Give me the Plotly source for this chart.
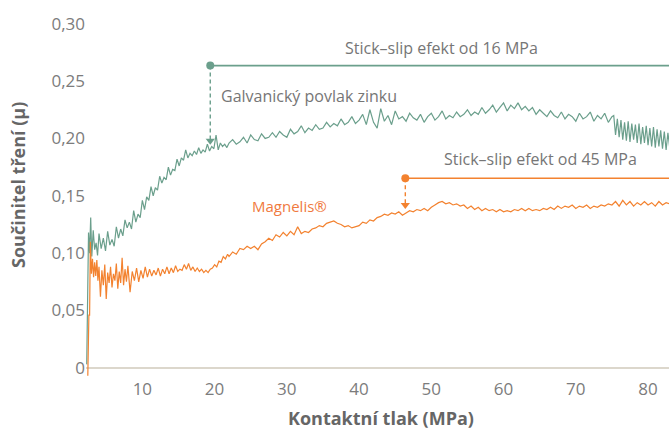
import plotly.graph_objects as go

# ---------------- data ----------------
pressure_zinc = [
    2.3, 2.4, 2.55, 2.7, 2.85, 3.0, 3.2, 3.4, 3.6, 3.8,
    4.0, 4.3, 4.6, 4.9, 5.2, 5.5, 5.8, 6.1, 6.4, 6.7,
    7.0, 7.3, 7.6, 7.9, 8.2, 8.5, 8.8, 9.1, 9.4, 9.7,
    10.0, 10.3, 10.6, 10.9, 11.2, 11.5, 11.8, 12.1, 12.4, 12.7,
    13.0, 13.3, 13.6, 13.9, 14.2, 14.5, 14.8, 15.1, 15.4, 15.7,
    16.0, 16.3, 16.6, 16.9, 17.2, 17.5, 17.8, 18.1, 18.4, 18.7,
    19.0, 19.3, 19.6, 19.9, 20.2, 20.5, 20.8, 21.1, 21.4, 21.7,
    22.0, 22.5, 23.0, 23.5, 24.0, 24.5, 25.0, 25.5, 26.0, 26.5,
    27.0, 27.5, 28.0, 28.5, 29.0, 29.5, 30.0, 30.5, 31.0, 31.5,
    32.0, 32.5, 33.0, 33.5, 34.0, 34.5, 35.0, 35.5, 36.0, 36.5,
    37.0, 37.5, 38.0, 38.5, 39.0, 39.5, 40.0, 40.5, 41.0, 41.5,
    42.0, 42.5, 43.0, 43.5, 44.0, 44.5, 45.0, 45.5, 46.0, 46.5,
    47.0, 47.5, 48.0, 48.5, 49.0, 49.5, 50.0, 50.5, 51.0, 51.5,
    52.0, 52.5, 53.0, 53.5, 54.0, 54.5, 55.0, 55.5, 56.0, 56.5,
    57.0, 57.5, 58.0, 58.5, 59.0, 59.5, 60.0, 60.5, 61.0, 61.5,
    62.0, 62.5, 63.0, 63.5, 64.0, 64.5, 65.0, 65.5, 66.0, 66.5,
    67.0, 67.5, 68.0, 68.5, 69.0, 69.5, 70.0, 70.5, 71.0, 71.5,
    72.0, 72.5, 73.0, 73.5, 74.0, 74.5, 75.0, 75.25, 75.5, 75.75,
    76.0, 76.25, 76.5, 76.75, 77.0, 77.25, 77.5, 77.75, 78.0, 78.25,
    78.5, 78.75, 79.0, 79.25, 79.5, 79.75, 80.0, 80.25, 80.5, 80.75,
    81.0, 81.25, 81.5, 81.75, 82.0, 82.25, 82.5, 82.75, 83.0,
]
mu_zinc = [
    0.003, 0.050, 0.118, 0.100, 0.131, 0.097, 0.120, 0.103, 0.109, 0.098,
    0.117, 0.104, 0.113, 0.102, 0.119, 0.107, 0.112, 0.106, 0.123, 0.113,
    0.121, 0.115, 0.129, 0.122, 0.127, 0.121, 0.137, 0.127, 0.134, 0.131,
    0.146, 0.138, 0.149, 0.146, 0.158, 0.150, 0.157, 0.155, 0.167, 0.161,
    0.166, 0.164, 0.175, 0.168, 0.173, 0.172, 0.182, 0.176, 0.183, 0.181,
    0.190, 0.183, 0.187, 0.185, 0.189, 0.186, 0.192, 0.187, 0.190, 0.188,
    0.195, 0.189, 0.193, 0.191, 0.203, 0.190, 0.196, 0.193, 0.195, 0.192,
    0.196, 0.199, 0.195, 0.197, 0.201, 0.196, 0.203, 0.199, 0.198, 0.204,
    0.200, 0.201, 0.205, 0.201, 0.206, 0.203, 0.201, 0.208, 0.204, 0.206,
    0.211, 0.205, 0.209, 0.207, 0.212, 0.208, 0.209, 0.214, 0.210, 0.213,
    0.211, 0.217, 0.212, 0.214, 0.219, 0.213, 0.216, 0.221, 0.212, 0.225,
    0.214, 0.209, 0.226, 0.215, 0.220, 0.212, 0.224, 0.217, 0.219, 0.215,
    0.222, 0.218, 0.216, 0.221, 0.214, 0.219, 0.222, 0.216, 0.219, 0.224,
    0.217, 0.220, 0.218, 0.223, 0.219, 0.221, 0.225, 0.220, 0.223, 0.221,
    0.227, 0.222, 0.225, 0.229, 0.223, 0.227, 0.231, 0.224, 0.229, 0.226,
    0.231, 0.225, 0.228, 0.224, 0.227, 0.221, 0.225, 0.222, 0.219, 0.224,
    0.220, 0.218, 0.223, 0.217, 0.221, 0.219, 0.215, 0.222, 0.217, 0.219,
    0.223, 0.215, 0.220, 0.217, 0.222, 0.214, 0.219, 0.220, 0.203, 0.217,
    0.201, 0.216, 0.199, 0.214, 0.198, 0.215, 0.197, 0.213, 0.199, 0.212,
    0.196, 0.213, 0.195, 0.210, 0.196, 0.211, 0.194, 0.209, 0.193, 0.210,
    0.192, 0.208, 0.193, 0.207, 0.191, 0.206, 0.190, 0.205, 0.192,
]

pressure_magnelis = [
    2.45, 2.5, 2.6, 2.7, 2.8, 2.95, 3.1, 3.25, 3.4, 3.55,
    3.7, 3.85, 4.0, 4.2, 4.4, 4.6, 4.8, 5.0, 5.2, 5.4,
    5.6, 5.8, 6.0, 6.2, 6.4, 6.6, 6.8, 7.0, 7.2, 7.4,
    7.6, 7.8, 8.0, 8.3, 8.6, 8.9, 9.2, 9.5, 9.8, 10.1,
    10.4, 10.7, 11.0, 11.3, 11.6, 11.9, 12.2, 12.5, 12.8, 13.1,
    13.4, 13.7, 14.0, 14.3, 14.6, 14.9, 15.2, 15.5, 15.8, 16.1,
    16.4, 16.7, 17.0, 17.3, 17.6, 17.9, 18.2, 18.5, 18.8, 19.1,
    19.4, 19.7, 20.0, 20.3, 20.6, 20.9, 21.2, 21.5, 21.8,
    22.0, 22.5, 23.0, 23.5, 24.0, 24.5, 25.0, 25.5, 26.0, 26.5,
    27.0, 27.5, 28.0, 28.5, 29.0, 29.5, 30.0, 30.5, 31.0, 31.5,
    32.0, 32.5, 33.0, 33.5, 34.0, 34.5, 35.0, 35.5, 36.0, 36.5,
    37.0, 37.5, 38.0, 38.5, 39.0, 39.5, 40.0, 40.5, 41.0, 41.5,
    42.0, 42.5, 43.0, 43.5, 44.0, 44.5, 45.0, 45.5, 46.0, 46.5,
    47.0, 47.5, 48.0, 48.5, 49.0, 49.5, 50.0, 50.5, 51.0, 51.5,
    52.0, 52.5, 53.0, 53.5, 54.0, 54.5, 55.0, 55.5, 56.0, 56.5,
    57.0, 57.5, 58.0, 58.5, 59.0, 59.5, 60.0, 60.5, 61.0, 61.5,
    62.0, 62.5, 63.0, 63.5, 64.0, 64.5, 65.0, 65.5, 66.0, 66.5,
    67.0, 67.5, 68.0, 68.5, 69.0, 69.5, 70.0, 70.5, 71.0, 71.5,
    72.0, 72.5, 73.0, 73.5, 74.0, 74.5, 75.0, 75.5, 76.0, 76.5,
    77.0, 77.5, 78.0, 78.5, 79.0, 79.5, 80.0, 80.5, 81.0, 81.5,
    82.0, 82.5, 83.0,
]
mu_magnelis = [
    -0.007, 0.045, 0.046, 0.046, 0.110, 0.082, 0.095, 0.079, 0.092, 0.080,
    0.094, 0.076, 0.088, 0.062, 0.085, 0.072, 0.090, 0.060, 0.083, 0.074,
    0.088, 0.070, 0.082, 0.076, 0.091, 0.069, 0.084, 0.074, 0.096, 0.072,
    0.086, 0.075, 0.089, 0.066, 0.084, 0.076, 0.087, 0.075, 0.085, 0.078,
    0.088, 0.079, 0.086, 0.080, 0.085, 0.081, 0.087, 0.080, 0.086, 0.082,
    0.088, 0.082, 0.087, 0.083, 0.089, 0.084, 0.086, 0.085, 0.090, 0.086,
    0.091, 0.085, 0.088, 0.084, 0.087, 0.084, 0.086, 0.083, 0.085, 0.083,
    0.086, 0.087, 0.090, 0.088, 0.093, 0.092, 0.097, 0.095, 0.099,
    0.097, 0.101, 0.099, 0.104, 0.103, 0.106, 0.104, 0.106, 0.103, 0.108,
    0.110, 0.113, 0.111, 0.116, 0.114, 0.118, 0.115, 0.119, 0.116, 0.123,
    0.117, 0.119, 0.118, 0.121, 0.122, 0.124, 0.123, 0.126, 0.127, 0.128,
    0.126, 0.125, 0.123, 0.124, 0.122, 0.123, 0.124, 0.127, 0.126, 0.129,
    0.128, 0.131, 0.132, 0.134, 0.133, 0.135, 0.134, 0.136, 0.133, 0.135,
    0.137, 0.136, 0.138, 0.137, 0.139, 0.137, 0.140, 0.142, 0.144, 0.145,
    0.143, 0.144, 0.142, 0.143, 0.141, 0.142, 0.139, 0.141, 0.138, 0.140,
    0.137, 0.139, 0.137, 0.138, 0.136, 0.138, 0.136, 0.137, 0.136, 0.138,
    0.137, 0.139, 0.137, 0.139, 0.137, 0.138, 0.137, 0.139, 0.138, 0.140,
    0.138, 0.141, 0.139, 0.141, 0.140, 0.142, 0.139, 0.141, 0.140, 0.142,
    0.139, 0.141, 0.140, 0.142, 0.141, 0.143, 0.142, 0.145, 0.141, 0.146,
    0.142, 0.145, 0.141, 0.144, 0.142, 0.145, 0.142, 0.144, 0.141, 0.145,
    0.142, 0.144, 0.143,
]

y_tick_values = [0, 0.05, 0.10, 0.15, 0.20, 0.25, 0.30]
y_tick_labels = ["0", "0,05", "0,10", "0,15", "0,20", "0,25", "0,30"]
x_tick_values = [10, 20, 30, 40, 50, 60, 70, 80]
x_tick_labels = ["10", "20", "30", "40", "50", "60", "70", "80"]

# stick-slip markers: start pressure, level of the bracket, arrow tip
stick_zinc = {"x": 19.4, "top": 0.2635, "tip": 0.195, "label": "Stick–slip efekt od 16 MPa"}
stick_magnelis = {"x": 46.4, "top": 0.1653, "tip": 0.139, "label": "Stick–slip efekt od 45 MPa"}

GREEN = "#6b9f8c"
ORANGE = "#f3822f"
GREY = "#767676"
FONT = "Open Sans"
X_MAX = 82.9

fig = go.Figure()

fig.add_trace(go.Scatter(x=pressure_zinc, y=mu_zinc, mode="lines",
                         line=dict(color=GREEN, width=1.2), hoverinfo="skip"))
fig.add_trace(go.Scatter(x=pressure_magnelis, y=mu_magnelis, mode="lines",
                         line=dict(color=ORANGE, width=1.2), hoverinfo="skip"))

for s, col in ((stick_zinc, GREEN), (stick_magnelis, ORANGE)):
    fig.add_shape(type="line", xref="x", yref="y", x0=s["x"], x1=X_MAX,
                  y0=s["top"], y1=s["top"], line=dict(color=col, width=1.6))
    fig.add_shape(type="line", xref="x", yref="y", x0=s["x"], x1=s["x"],
                  y0=s["top"], y1=s["tip"] + 0.004,
                  line=dict(color=col, width=1.4, dash="4px,3px"))
    fig.add_trace(go.Scatter(x=[s["x"]], y=[s["top"]], mode="markers",
                             marker=dict(color=col, size=8), hoverinfo="skip"))
    fig.add_trace(go.Scatter(x=[s["x"]], y=[s["tip"] + 0.003], mode="markers",
                             marker=dict(color=col, size=8, symbol="triangle-down"),
                             hoverinfo="skip"))

ann = [
    dict(x=51.46, y=0.2787, text=stick_zinc["label"], xanchor="center",
         font=dict(size=16, color=GREY, family=FONT)),
    dict(x=20.6, y=0.2368, text="Galvanický povlak zinku", xanchor="left",
         font=dict(size=16, color=GREY, family=FONT)),
    dict(x=65.07, y=0.1819, text=stick_magnelis["label"], xanchor="center",
         font=dict(size=16, color=GREY, family=FONT)),
    dict(x=30.39, y=0.1409, text="Magnelis®", xanchor="center",
         font=dict(size=15, color="#f07a3e", family=FONT)),
]
for a in ann:
    fig.add_annotation(xref="x", yref="y", showarrow=False, yanchor="middle", **a)

fig.add_annotation(xref="paper", yref="paper", x=0.506, y=-0.114,
                   text="<b>Kontaktní tlak (MPa)</b>", showarrow=False,
                   xanchor="center", yanchor="middle",
                   font=dict(size=18, color="#666666", family=FONT))
fig.add_annotation(xref="paper", yref="paper", x=-0.1166, y=0.535,
                   text="<b>Součinitel tření (μ)</b>", showarrow=False, textangle=-90,
                   xanchor="center", yanchor="middle",
                   font=dict(size=18, color="#666666", family=FONT))

fig.update_layout(
    width=669, height=430,
    margin=dict(l=86, r=0, t=18, b=53),
    paper_bgcolor="white", plot_bgcolor="white",
    showlegend=False,
    font=dict(family=FONT, color=GREY),
    xaxis=dict(range=[2.2, X_MAX], tickvals=x_tick_values, ticktext=x_tick_labels,
               showgrid=False, zeroline=False, showline=False, ticks="",
               tickfont=dict(size=17, color="#7c7c7c", family=FONT), fixedrange=True),
    yaxis=dict(range=[-0.008, 0.305], tickvals=y_tick_values, ticktext=y_tick_labels,
               showgrid=False, zeroline=True, zerolinecolor="#dcd7cc", zerolinewidth=2,
               showline=False, ticks="",
               tickfont=dict(size=17, color="#7c7c7c", family=FONT), fixedrange=True),
)

fig.write_html("out.html", config={"displayModeBar": False},
               post_script="document.body.style.margin='0';document.body.style.overflow='hidden';")
